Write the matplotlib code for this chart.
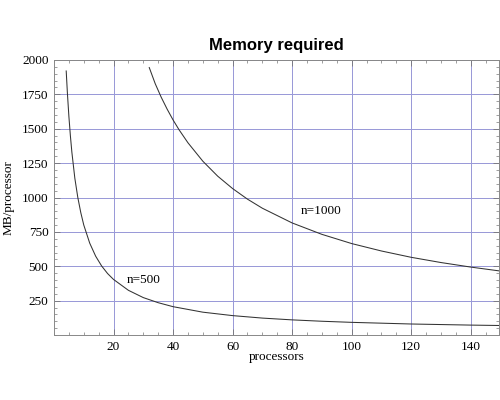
import matplotlib
matplotlib.use('Agg')
import matplotlib.pyplot as plt
from matplotlib.ticker import MultipleLocator

# Values.
p_500 = [4.1, 4.5, 5, 5.5, 6, 7, 8, 9, 10, 12, 14, 16, 18, 20, 25, 30, 35, 40,
         50, 60, 70, 80, 90, 100, 110, 120, 130, 140, 150]
mb_500 = [1920, 1760, 1590, 1450, 1330, 1140, 1000, 890, 800, 668, 573, 502, 447,
          404, 325, 272, 235, 206, 166, 141, 123, 110, 100, 92, 86, 80, 76, 72, 69]

p_1000 = [32, 34, 36, 38, 40, 42, 45, 50, 55, 60, 65, 70, 80, 90, 100, 110, 120,
          130, 140, 150]
mb_1000 = [1945, 1828, 1730, 1643, 1564, 1493, 1398, 1264, 1155, 1065, 988, 922,
           815, 732, 665, 611, 565, 527, 494, 465]

labels = ['n=500', 'n=1000']
label_pos = [(24.5, 397), (83, 899)]

serif = 'Liberation Serif'

fig = plt.figure(figsize=(5, 4), dpi=100)
ax = fig.add_axes([0.108, 0.1625, 0.89, 0.6875])

# Curves
ax.plot(p_500, mb_500, color='#333333', lw=0.75)
ax.plot(p_1000, mb_1000, color='#333333', lw=0.75)

for txt, (x, y) in zip(labels, label_pos):
    ax.text(x, y, txt, family=serif, fontsize=9.5, va='center', ha='left')

# Axes range
ax.set_xlim(0, 149.5)
ax.set_ylim(0, 2000)

# Ticks
ax.xaxis.set_minor_locator(MultipleLocator(5))
ax.yaxis.set_minor_locator(MultipleLocator(50))
ax.set_xticks(range(20, 141, 20))
ax.set_yticks(range(250, 2001, 250))
ax.tick_params(which='both', direction='in', top=True, right=True,
               color='#777777', labelsize=9.5, pad=4)
ax.tick_params(which='major', length=4, width=0.6)
ax.tick_params(which='minor', length=2, width=0.5)
for lab in ax.get_xticklabels() + ax.get_yticklabels():
    lab.set_family(serif)

# Grid
ax.grid(which='major', color='#9a9ad8', lw=0.72)
ax.set_axisbelow(True)

for s in ax.spines.values():
    s.set_color('#888888')
    s.set_linewidth(0.7)

# Title and labels
ax.set_title('Memory required', family='Liberation Sans', fontweight='bold',
             fontsize=12, pad=7)
ax.set_xlabel('processors', family=serif, fontsize=9.5, labelpad=-1)
ax.set_ylabel('MB/processor', family=serif, fontsize=9.5, labelpad=5)

fig.savefig('out.png', dpi=100)
